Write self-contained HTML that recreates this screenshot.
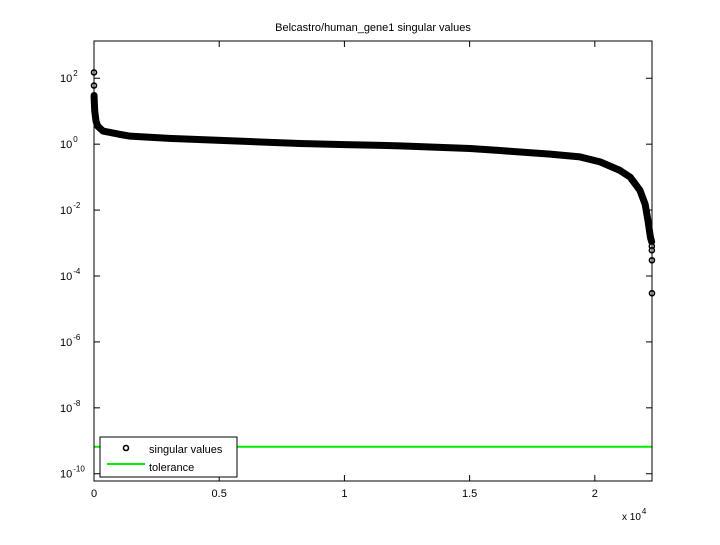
<!DOCTYPE html>
<html><head><meta charset="utf-8"><style>
body{margin:0;background:#fff;}
svg text{font-family:"Liberation Sans",sans-serif;fill:#000;}
</style></head><body>
<svg id="chart" width="720" height="540" xmlns="http://www.w3.org/2000/svg">
<rect width="720" height="540" fill="#fff"/>
<text x="373" y="31" font-size="11" text-anchor="middle">Belcastro/human_gene1 singular values</text>
<g id="plot"></g>
</svg>
<script>
const bandIndex = [3,10,30,80,150,360,1000,1440,3000,6200,8230,10000,12220,15020,16210,18210,19410,20210,21000,21410,21800,22010,22130,22220,22268];
const bandValue = [30,20,10,5,3.5,2.5,2.0,1.75,1.5,1.2,1.05,0.97,0.89,0.74,0.64,0.5,0.41,0.29,0.16,0.1,0.04,0.015,0.0044,0.0015,0.0011];
const pointIndex = [0,1,22276,22278,22280,22282];
const pointValue = [150,60,0.0008,0.0006,0.0003,0.00003];
const tolerance = [6.6e-10];
const xTicks = [0,0.5,1,1.5,2];
const xTickLabels = ["0","0.5","1","1.5","2"];
const yTickExps = [-10,-8,-6,-4,-2,0,2];

const L=94,R=652,T=41,B=481;
const xMin=0,xMax=22283;
const yMinE=-10.22,yMaxE=3.13;
const sx=v=>L+(v-xMin)/(xMax-xMin)*(R-L);
const sy=v=>B-(Math.log10(v)-yMinE)/(yMaxE-yMinE)*(B-T);
const syE=e=>B-(e-yMinE)/(yMaxE-yMinE)*(B-T);
const NS="http://www.w3.org/2000/svg";
const g=document.getElementById('plot');
function mk(tag,attrs){const e=document.createElementNS(NS,tag);for(const k in attrs)e.setAttribute(k,attrs[k]);g.appendChild(e);return e;}

const tl=mk('line',{x1:L,x2:R,y1:sy(tolerance[0]),y2:sy(tolerance[0]),stroke:'#00ee00','stroke-width':2});



let d='';
bandIndex.forEach((ix,i)=>{d+=(i?'L':'M')+sx(ix).toFixed(2)+' '+sy(bandValue[i]).toFixed(2);});
const cp=mk('path',{d:d,fill:'none',stroke:'#000','stroke-width':7,'stroke-linejoin':'round','stroke-linecap':'round'});


pointIndex.forEach((ix,i)=>{
  const c=mk('circle',{cx:sx(ix),cy:sy(pointValue[i]),r:2.5,fill:'#fff',stroke:'#000','stroke-width':1.6});
  
  
});

const box=mk('rect',{x:L,y:T,width:R-L,height:B-T,fill:'none',stroke:'#000','stroke-width':1});



xTicks.forEach((t,i)=>{
  const x=sx(t*1e4);
  mk('line',{x1:x,x2:x,y1:B,y2:B-6,stroke:'#000'});
  mk('line',{x1:x,x2:x,y1:T,y2:T+6,stroke:'#000'});
  const tx=mk('text',{x:x,y:B+16,'font-size':11,'text-anchor':'middle'});
  tx.textContent=xTickLabels[i];
  
  
});
yTickExps.forEach(e=>{
  const y=syE(e);
  mk('line',{x1:L,x2:L+6,y1:y,y2:y,stroke:'#000'});
  mk('line',{x1:R,x2:R-6,y1:y,y2:y,stroke:'#000'});
  const tx=mk('text',{x:60,y:y+4,'font-size':11});
  
  
  tx.textContent='10';
  const sp=document.createElementNS(NS,'tspan');
  sp.setAttribute('font-size','8');sp.setAttribute('dy','-6');sp.setAttribute('dx','1');
  sp.textContent=String(e);tx.appendChild(sp);
});
const xm=mk('text',{x:622,y:520,'font-size':10});


xm.textContent='x 10';
const xs=document.createElementNS(NS,'tspan');xs.setAttribute('font-size','8');xs.setAttribute('dy','-6');xs.setAttribute('dx','1');xs.textContent='4';xm.appendChild(xs);

const lg=mk('rect',{x:100,y:437,width:137,height:40,fill:'#fff',stroke:'#000'});


const lm=mk('circle',{cx:126,cy:448,r:2.5,fill:'#fff',stroke:'#000','stroke-width':1.6});


const lt1=mk('text',{x:149,y:453,'font-size':11});lt1.textContent='singular values';


const ll=mk('line',{x1:107,x2:145,y1:464,y2:464,stroke:'#00ee00','stroke-width':2});


const lt2=mk('text',{x:149,y:471,'font-size':11});lt2.textContent='tolerance';


</script>
</body></html>
